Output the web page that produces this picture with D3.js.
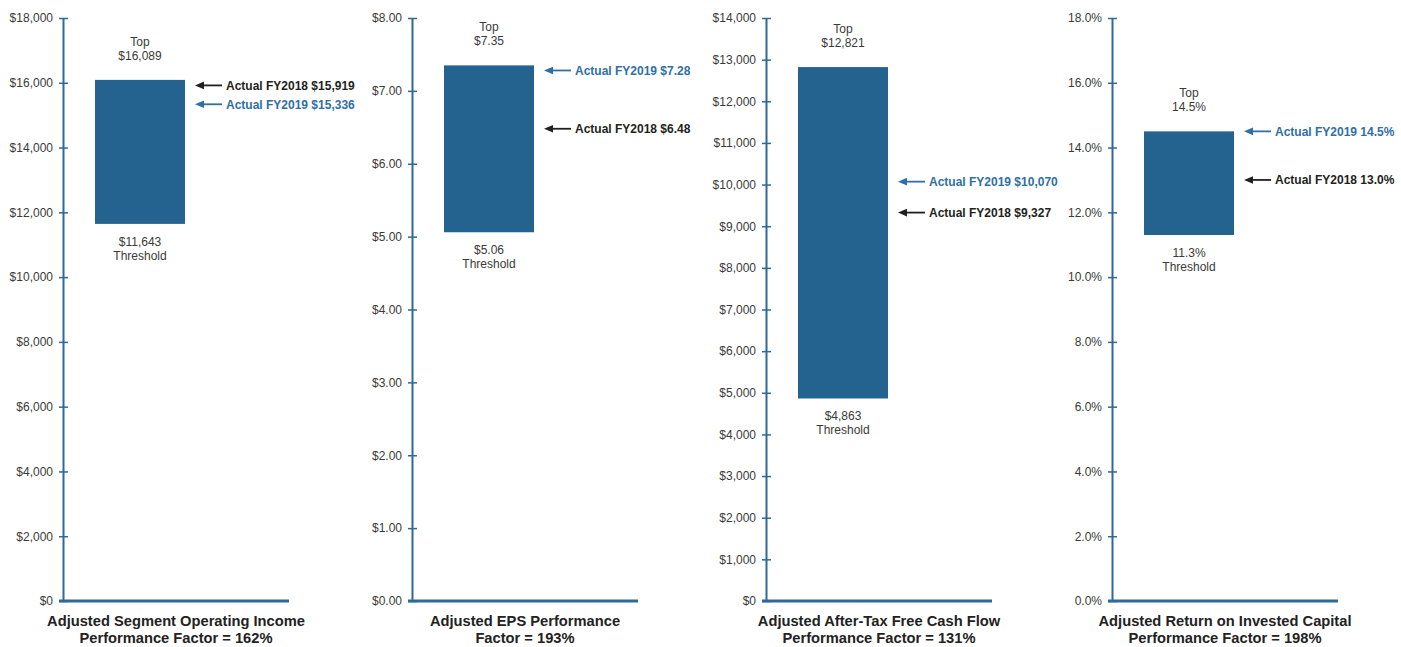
<!DOCTYPE html>
<html lang="en">
<head>
    <meta charset="UTF-8">
    <title>Performance Factors</title>
    <script src="https://d3js.org/d3.v7.min.js"></script>
    <style>
        body { margin: 0; background: #fff; }
        svg { display: block; font-family: "Liberation Sans", Arial, Helvetica, sans-serif; }
    </style>
</head>
<body>
    <script>
        // chart values
        var titleLines = [
            ['Adjusted Segment Operating Income', 'Performance Factor = 162%'],
            ['Adjusted EPS Performance', 'Factor = 193%'],
            ['Adjusted After-Tax Free Cash Flow', 'Performance Factor = 131%'],
            ['Adjusted Return on Invested Capital', 'Performance Factor = 198%']
        ]
        var axisMax = [18000, 8, 14000, 18]
        var tickStep = [2000, 1, 1000, 2]
        var tickFormats = ['$,.0f', '$.2f', '$,.0f', '.1f%']
        var labelFormats = ['$,.0f', '$.2f', '$,.0f', '.1f%']
        var topValues = [16089, 7.35, 12821, 14.5]
        var thresholdValues = [11643, 5.06, 4863, 11.3]
        var actual2018 = [15919, 6.48, 9327, 13.0]
        var actual2019 = [15336, 7.28, 10070, 14.5]

        var w = 1401, h = 647
        var panelX = [63, 412, 766, 1112]
        var yTop = 18, yBottom = 601
        var baseLen = 226
        var barX = 32, barW = 90

        var barColor = '#246390'
        var axisColor = '#2d6a9a'
        var blueText = '#2f6fa6'
        var darkText = '#231f20'
        var grayText = '#3a3a3a'

        function fmt(spec, v) {
            if (spec.slice(-1) === '%') {
                return d3.format(spec.slice(0, -1))(v) + '%'
            }
            return d3.format(spec)(v)
        }

        var svg = d3.select('body')
                    .append('svg')
                    .attr('width', w)
                    .attr('height', h)

        for (var i = 0; i < 4; i++) {
            var g = svg.append('g')
                .attr('transform', 'translate(' + panelX[i] + ',0)')

            var yScale = d3.scaleLinear()
                .domain([0, axisMax[i]])
                .range([yBottom, yTop])

            var ticks = d3.range(0, axisMax[i] + tickStep[i] / 2, tickStep[i])
            var spec = tickFormats[i]

            var yAxis = d3.axisLeft(yScale)
                .tickValues(ticks)
                .tickFormat(function (d) { return fmt(spec, d) })
                .tickSizeInner(4)
                .tickSizeOuter(0)
                .tickPadding(6)

            var ax = g.append('g').call(yAxis)
            ax.select('.domain')
                .attr('stroke', axisColor)
                .attr('stroke-width', 2)
            ax.selectAll('.tick line')
                .attr('x1', 5)
                .attr('stroke', axisColor)
                .attr('stroke-width', 1.5)
            ax.selectAll('.tick text')
                .attr('fill', grayText)
                .style('font-size', '12px')
                .style('font-family', '"Liberation Sans", Arial, sans-serif')

            // baseline
            g.append('line')
                .attr('x1', -4)
                .attr('x2', baseLen)
                .attr('y1', yScale(0))
                .attr('y2', yScale(0))
                .attr('stroke', axisColor)
                .attr('stroke-width', 3)

            // the range bar
            g.append('rect')
                .attr('x', barX)
                .attr('width', barW)
                .attr('y', yScale(topValues[i]))
                .attr('height', yScale(thresholdValues[i]) - yScale(topValues[i]))
                .attr('fill', barColor)

            var cx = barX + barW / 2
            var topY = yScale(topValues[i])
            var botY = yScale(thresholdValues[i])

            var topLabel = g.append('text')
                .attr('text-anchor', 'middle')
                .attr('fill', grayText)
                .style('font-size', '12px')
            topLabel.append('tspan').attr('x', cx).attr('y', topY - 34).text('Top')
            topLabel.append('tspan').attr('x', cx).attr('y', topY - 20).text(fmt(labelFormats[i], topValues[i]))

            var botLabel = g.append('text')
                .attr('text-anchor', 'middle')
                .attr('fill', grayText)
                .style('font-size', '12px')
            botLabel.append('tspan').attr('x', cx).attr('y', botY + 22).text(fmt(labelFormats[i], thresholdValues[i]))
            botLabel.append('tspan').attr('x', cx).attr('y', botY + 36).text('Threshold')

            // actual markers, nudged apart if they would overlap
            var marks = [
                { label: 'Actual FY2018 ', v: actual2018[i], color: darkText },
                { label: 'Actual FY2019 ', v: actual2019[i], color: blueText }
            ]
            marks.forEach(function (m) { m.y = yScale(m.v) })
            var gap = Math.abs(marks[0].y - marks[1].y)
            if (gap < 14) {
                var mid = (marks[0].y + marks[1].y) / 2
                var up = marks[0].y <= marks[1].y ? 0 : 1
                marks[up].y = mid - 7
                marks[1 - up].y = mid + 7
            }

            var tipX = barX + barW + 10
            marks.forEach(function (m) {
                g.append('line')
                    .attr('x1', tipX + 6)
                    .attr('x2', tipX + 27)
                    .attr('y1', m.y)
                    .attr('y2', m.y)
                    .attr('stroke', m.color)
                    .attr('stroke-width', 1.8)
                g.append('path')
                    .attr('d', 'M' + tipX + ',' + m.y +
                               'L' + (tipX + 9) + ',' + (m.y - 3.8) +
                               'L' + (tipX + 9) + ',' + (m.y + 3.8) + 'Z')
                    .attr('fill', m.color)
                g.append('text')
                    .attr('x', tipX + 31)
                    .attr('y', m.y + 4.5)
                    .attr('fill', m.color)
                    .style('font-size', '12px')
                    .style('font-weight', 'bold')
                    .text(m.label + fmt(labelFormats[i], m.v))
            })

            // panel title
            var title = g.append('text')
                .attr('text-anchor', 'middle')
                .attr('fill', '#222')
                .style('font-size', '14.7px')
                .style('font-weight', 'bold')
            titleLines[i].forEach(function (line, k) {
                title.append('tspan')
                    .attr('x', baseLen / 2)
                    .attr('y', 626 + k * 17)
                    .text(line)
            })
        }
    </script>
</body>
</html>
